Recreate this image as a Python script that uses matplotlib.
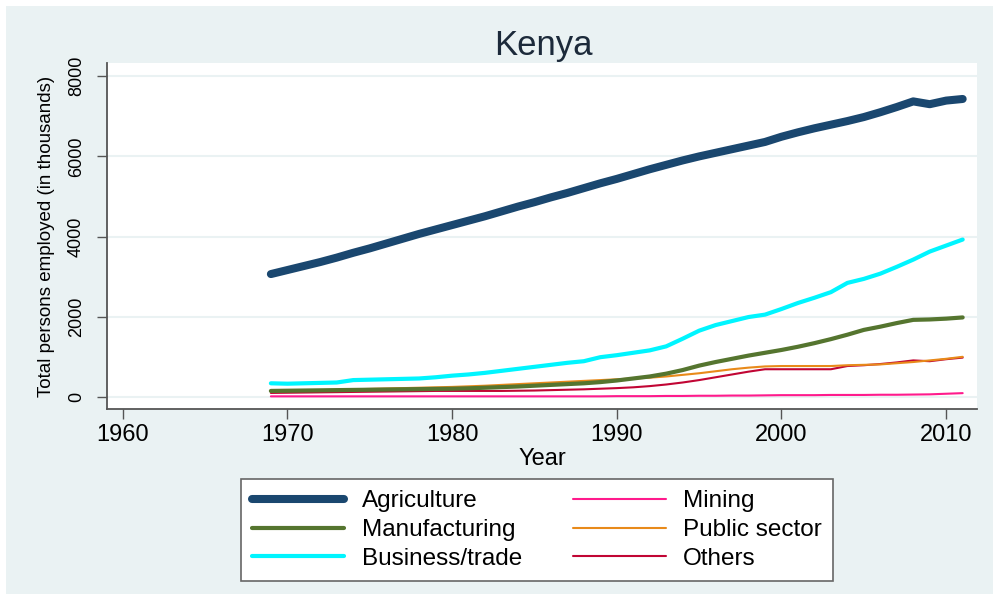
import matplotlib.pyplot as plt
from matplotlib.patches import Rectangle

# Kenya: total persons employed by sector (thousands), 1969-2011
years = list(range(1969, 2012))

agriculture = [3070, 3170, 3270, 3370, 3480, 3600, 3710, 3830, 3950, 4070,
               4180, 4290, 4400, 4510, 4630, 4750, 4860, 4980, 5090, 5210,
               5330, 5440, 5560, 5680, 5790, 5900, 6000, 6090, 6180, 6270,
               6360, 6490, 6600, 6700, 6790, 6880, 6980, 7100, 7230, 7370,
               7300, 7390, 7430]
manufacturing = [160, 165, 170, 175, 180, 185, 190, 195, 200, 205,
                 210, 215, 225, 240, 255, 270, 290, 310, 330, 350,
                 380, 420, 470, 520, 590, 680, 790, 880, 960, 1040,
                 1110, 1180, 1260, 1350, 1450, 1560, 1680, 1760, 1850, 1930,
                 1940, 1960, 1990]
business = [350, 340, 350, 360, 370, 430, 440, 450, 460, 470,
            500, 540, 570, 610, 660, 710, 760, 810, 860, 900,
            1000, 1050, 1110, 1170, 1270, 1460, 1660, 1800, 1900, 2000,
            2060, 2200, 2350, 2480, 2620, 2850, 2950, 3080, 3250, 3430,
            3630, 3780, 3930]
mining = [25, 25, 25, 25, 25, 25, 25, 25, 25, 25,
          25, 25, 25, 25, 25, 25, 25, 25, 25, 25,
          25, 30, 30, 30, 35, 35, 40, 40, 45, 45,
          50, 55, 55, 55, 60, 60, 60, 65, 65, 70,
          75, 90, 105]
public_sector = [150, 160, 170, 180, 190, 200, 210, 220, 230, 240,
                 250, 260, 275, 290, 310, 330, 350, 370, 390, 410,
                 430, 450, 470, 490, 520, 560, 600, 650, 700, 740,
                 770, 780, 780, 780, 780, 800, 810, 820, 850, 880,
                 920, 960, 1010]
others = [110, 115, 120, 125, 130, 135, 140, 145, 150, 155,
          160, 160, 160, 160, 160, 165, 170, 180, 190, 200,
          215, 230, 250, 280, 320, 370, 430, 500, 570, 640,
          700, 700, 700, 700, 700, 780, 800, 830, 870, 920,
          900, 950, 990]

x_ticks = [1960, 1970, 1980, 1990, 2000, 2010]
y_ticks = [0, 2000, 4000, 6000, 8000]

plt.rcParams['font.family'] = ['Liberation Sans', 'DejaVu Sans']

bg = '#eaf2f3'
fig = plt.figure(figsize=(9.97, 5.94), dpi=100, facecolor='white')
# stata-style light graph region with a thin white border
fig.patches.append(Rectangle((6 / 997, 0), 987 / 997, 588 / 594,
                             transform=fig.transFigure, facecolor=bg,
                             edgecolor='none', zorder=-10))

ax = fig.add_axes([107 / 997, 1 - 409 / 594, 870 / 997, 346 / 594])
ax.set_facecolor('white')

series = [
    ('Agriculture', agriculture, '#1a476f', 5.8),
    ('Manufacturing', manufacturing, '#55752f', 3.0),
    ('Business/trade', business, '#00f5ff', 3.0),
    ('Mining', mining, '#ff1a8c', 1.5),
    ('Public sector', public_sector, '#e88a1a', 1.5),
    ('Others', others, '#c10534', 1.5),
]
# draw thin lines first so the thick ones sit on top like the original
for name, vals, col, lw in reversed(series):
    ax.plot(years, vals, color=col, linewidth=lw, solid_capstyle='round',
            label=name)

ax.set_xlim(1959.05, 2011.87)
ax.set_ylim(-290, 8326)
ax.set_xticks(x_ticks)
ax.set_yticks(y_ticks)
ax.set_yticklabels([str(v) for v in y_ticks], rotation=90, va='center',
                   fontsize=13)
ax.tick_params(axis='x', labelsize=17, length=7, width=1, color='#555555',
               pad=4)
ax.tick_params(axis='y', length=7, width=1, color='#555555', pad=9)
ax.grid(axis='y', color=bg, linewidth=1.5)
ax.set_axisbelow(True)

for s in ['top', 'right']:
    ax.spines[s].set_visible(False)
for s in ['left', 'bottom']:
    ax.spines[s].set_color('#555555')
    ax.spines[s].set_linewidth(1.3)

ax.set_xlabel('Year', fontsize=17, labelpad=1)
ax.set_ylabel('Total persons employed (in thousands)', fontsize=13.5,
              labelpad=9)
fig.text(543 / 997, 1 - 45 / 594, 'Kenya', fontsize=25, color='#1c2a3a',
         ha='center', va='center')

handles, labels = ax.get_legend_handles_labels()
order = [labels.index(s[0]) for s in series]
leg = fig.legend([handles[i] for i in order], [labels[i] for i in order],
                 ncol=2, loc='center', bbox_to_anchor=(537 / 997, 1 - 530 / 594),
                 fontsize=17.5, handlelength=3.8, handletextpad=0.72,
                 columnspacing=2.1, labelspacing=0.28, borderpad=0.45,
                 fancybox=False, framealpha=1)
leg.get_frame().set_edgecolor('#666666')
leg.get_frame().set_linewidth(1.2)

fig.savefig('out.png', dpi=100, facecolor=fig.get_facecolor())
